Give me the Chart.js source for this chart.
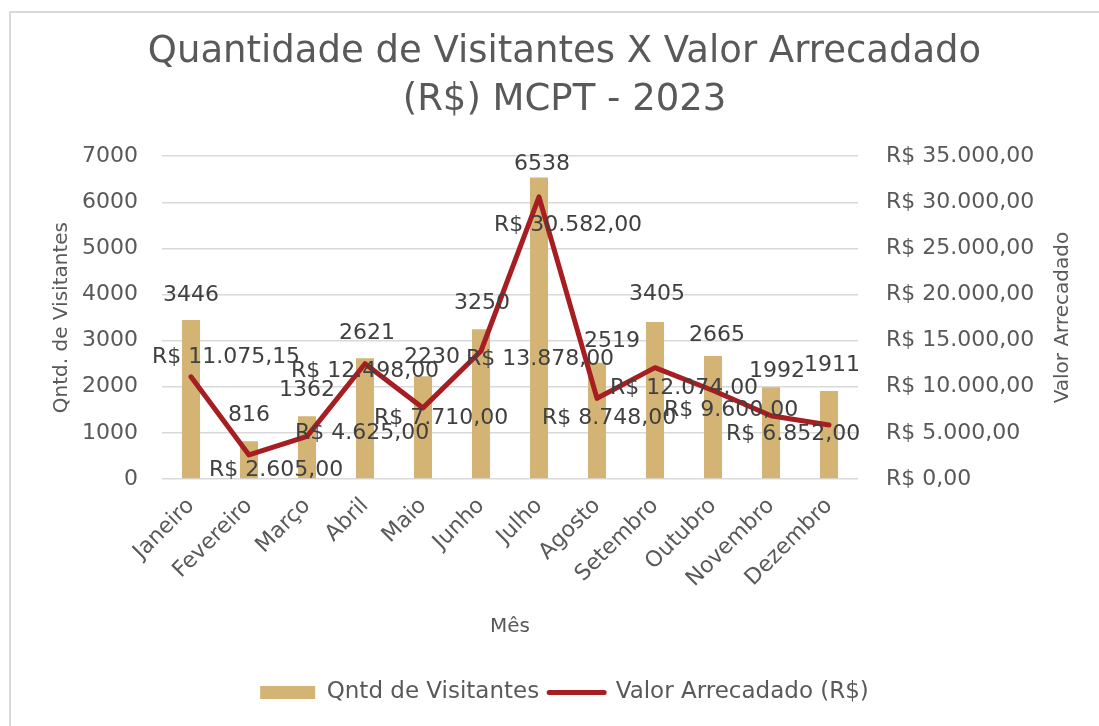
<!DOCTYPE html>
<html>
<head>
<meta charset="utf-8">
<script src="https://cdn.jsdelivr.net/npm/chart.js@4.4.0/dist/chart.umd.min.js"></script>
<style>
  html, body { margin: 0; padding: 0; background: #fff; }
  #chart { display: block; }
</style>
</head>
<body>
<canvas id="chart" width="1099" height="726"></canvas>
<script>
const meses = ['Janeiro', 'Fevereiro', 'Março', 'Abril', 'Maio', 'Junho', 'Julho', 'Agosto', 'Setembro', 'Outubro', 'Novembro', 'Dezembro']
const visitantes = [3446, 816, 1362, 2621, 2230, 3250, 6538, 2519, 3405, 2665, 1992, 1911]
const valorArrecadado = [11075.15, 2605, 4625, 12498, 7710, 13878, 30582, 8748, 12074, 9600, 6852, 5850]
const visitantesMax = 7000
const visitantesStep = 1000
const valorMax = 35000
const valorStep = 5000

// where Excel left each data label, relative to its bar top / line point (null = no label)
const barLabelOffsets = [[0, -25], [0, -26], [0, -26], [2, -25], [9, -19], [1, -26], [3, -13], [15, -22], [2, -28], [4, -21], [6, -16], [3, -26]]
const lineLabelOffsets = [[35, -20], [27, 15], [55, -3], [0, 8], [18, 10], [59, 8], [29, 28], [12, 20], [29, 21], [18, 20], [22, 18], null]

const FONT = "'DejaVu Sans', sans-serif"
const GREY = '#595959'
const LABEL = '#404040'
const GRID = '#d9d9d9'
const TAN = '#d4b475'
const RED = '#a61d22'

function brl(v) {
  const parts = Number(v).toFixed(2).split('.')
  return 'R$ ' + parts[0].replace(/\B(?=(\d{3})+(?!\d))/g, '.') + ',' + parts[1]
}

const frame = {
  id: 'frame',
  beforeDraw(chart) {
    const ctx = chart.ctx
    ctx.save()
    ctx.fillStyle = '#fff'
    ctx.fillRect(0, 0, chart.width, chart.height)
    ctx.strokeStyle = GRID
    ctx.lineWidth = 2
    ctx.beginPath()
    ctx.moveTo(10, chart.height)
    ctx.lineTo(10, 12)
    ctx.lineTo(chart.width, 12)
    ctx.stroke()
    ctx.restore()
  }
}

const dataLabels = {
  id: 'dataLabels',
  afterDatasetsDraw(chart) {
    const ctx = chart.ctx
    ctx.save()
    ctx.font = '22px ' + FONT
    ctx.fillStyle = LABEL
    ctx.textAlign = 'center'
    ctx.textBaseline = 'middle'
    chart.getDatasetMeta(0).data.forEach((bar, i) => {
      const o = barLabelOffsets[i]
      ctx.fillText(String(visitantes[i]), bar.x + o[0], bar.y + o[1])
    })
    chart.getDatasetMeta(1).data.forEach((pt, i) => {
      const o = lineLabelOffsets[i]
      if (!o) return
      ctx.fillText(brl(valorArrecadado[i]), pt.x + o[0], pt.y + o[1])
    })
    ctx.restore()
  }
}

// Chart.js turns a right-hand axis title top-to-bottom; Excel reads it bottom-to-top
const rightTitle = {
  id: 'rightTitle',
  afterDraw(chart) {
    const s = chart.scales.y1
    const ctx = chart.ctx
    ctx.save()
    ctx.translate(s.right - 36, (chart.chartArea.top + chart.chartArea.bottom) / 2)
    ctx.rotate(-Math.PI / 2)
    ctx.font = '20px ' + FONT
    ctx.fillStyle = GREY
    ctx.textAlign = 'center'
    ctx.textBaseline = 'middle'
    ctx.fillText('Valor Arrecadado', 0, 0)
    ctx.restore()
  }
}

new Chart(document.getElementById('chart'), {
  data: {
    labels: meses,
    datasets: [{
      type: 'bar',
      label: 'Qntd de Visitantes',
      data: visitantes,
      backgroundColor: TAN,
      yAxisID: 'y',
      barPercentage: 0.31,
      categoryPercentage: 1,
      order: 2
    }, {
      type: 'line',
      label: 'Valor Arrecadado (R$)',
      data: valorArrecadado,
      borderColor: RED,
      backgroundColor: RED,
      borderWidth: 5,
      borderJoinStyle: 'round',
      borderCapStyle: 'round',
      pointRadius: 0,
      tension: 0,
      yAxisID: 'y1',
      order: 1
    }]
  },
  options: {
    responsive: false,
    animation: false,
    layout: { padding: { left: 30, right: 0, top: 12, bottom: 12 } },
    plugins: {
      tooltip: { enabled: false },
      title: {
        display: true,
        text: ['Quantidade de Visitantes X Valor Arrecadado', '(R$) MCPT - 2023'],
        color: GREY,
        font: { family: FONT, size: 37, weight: 'normal', lineHeight: 1.3 },
        padding: { top: 16, bottom: 32 }
      },
      legend: {
        position: 'bottom',
        labels: {
          usePointStyle: true,
          pointStyleWidth: 55,
          boxHeight: 13,
          padding: 10,
          color: GREY,
          font: { family: FONT, size: 23 },
          generateLabels: chart => chart.data.datasets.map((ds, i) => ({
            text: ds.label,
            datasetIndex: i,
            hidden: false,
            fontColor: GREY,
            fillStyle: ds.type === 'line' ? ds.borderColor : ds.backgroundColor,
            strokeStyle: ds.type === 'line' ? ds.borderColor : ds.backgroundColor,
            lineWidth: ds.type === 'line' ? 5 : 0,
            lineCap: 'round',
            pointStyle: ds.type === 'line' ? 'line' : 'rect'
          }))
        }
      }
    },
    scales: {
      x: {
        grid: { display: false },
        border: { display: false },
        ticks: { color: GREY, font: { family: FONT, size: 22 }, minRotation: 45, maxRotation: 45, autoSkip: false, padding: 6 },
        title: { display: true, text: 'Mês', color: GREY, font: { family: FONT, size: 20 }, padding: { top: 0, bottom: 32 } },
        afterFit: s => { s.height = 192 }
      },
      y: {
        position: 'left',
        min: 0,
        max: visitantesMax,
        grid: { color: GRID, lineWidth: 1.5, drawTicks: false },
        border: { display: false },
        ticks: { stepSize: visitantesStep, color: GREY, font: { family: FONT, size: 22 }, padding: 24, callback: v => String(v) },
        title: { display: true, text: 'Qntd. de Visitantes', color: GREY, font: { family: FONT, size: 20 }, padding: { top: 20, bottom: 0 } },
        afterFit: s => { s.width = 132 }
      },
      y1: {
        position: 'right',
        min: 0,
        max: valorMax,
        grid: { display: false, drawTicks: false },
        border: { display: false },
        ticks: { stepSize: valorStep, color: GREY, font: { family: FONT, size: 22 }, padding: 28, callback: v => brl(v) },
        afterFit: s => { s.width = 241 }
      }
    }
  },
  plugins: [frame, dataLabels, rightTitle]
})
</script>
</body>
</html>
